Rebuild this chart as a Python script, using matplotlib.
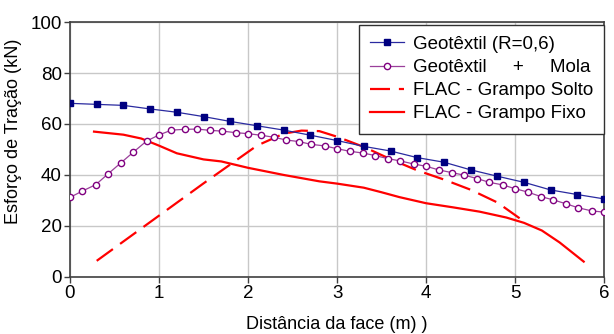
import numpy as np
import matplotlib.pyplot as plt

plt.rc('font', family=['Liberation Sans', 'DejaVu Sans'], size=13.5)

# Geotextil (R=0,6)
x_geo = [0.0, 0.3, 0.6, 0.9, 1.2, 1.5, 1.8, 2.1, 2.4, 2.7, 3.0,
         3.3, 3.6, 3.9, 4.2, 4.5, 4.8, 5.1, 5.4, 5.7, 6.0]
t_geo = [68.1, 67.7, 67.3, 65.9, 64.6, 62.9, 61.0, 59.3, 57.6, 55.6, 53.5,
         51.2, 49.4, 46.8, 45.0, 42.0, 39.5, 37.1, 34.1, 32.3, 30.6]

# Geotextil + Mola
x_mola = [0.00, 0.14, 0.29, 0.43, 0.57, 0.71, 0.86, 1.00, 1.14, 1.29, 1.43,
          1.57, 1.71, 1.86, 2.00, 2.14, 2.29, 2.43, 2.57, 2.71, 2.86, 3.00,
          3.14, 3.29, 3.43, 3.57, 3.71, 3.86, 4.00, 4.14, 4.29, 4.43, 4.57,
          4.71, 4.86, 5.00, 5.14, 5.29, 5.43, 5.57, 5.71, 5.86, 6.00]
t_mola = [31.2, 33.7, 36.2, 40.5, 44.7, 48.9, 53.3, 55.7, 57.6, 57.9, 58.0,
          57.5, 57.2, 56.6, 56.2, 55.6, 54.8, 53.7, 53.1, 52.0, 51.4, 50.3,
          49.3, 48.6, 47.6, 46.4, 45.5, 44.3, 43.4, 42.0, 40.9, 39.9, 38.6,
          37.1, 36.1, 34.6, 33.3, 31.5, 30.2, 28.7, 27.1, 25.9, 25.4]

# FLAC - grampo solto
x_solto = [0.3, 0.9, 1.5, 2.1, 2.4, 2.6, 2.8, 3.0, 3.3, 3.6, 3.9, 4.2, 4.5, 4.8, 5.05]
t_solto = [6.3, 21.5, 36.7, 51.5, 56.2, 57.4, 57.2, 55.0, 51.0, 46.2, 41.8, 38.2, 34.2, 29.2, 23.0]

# FLAC - grampo fixo
x_fixo = [0.27, 0.6, 0.8, 1.0, 1.2, 1.5, 1.7, 2.0, 2.4, 2.8, 3.0, 3.3, 3.5,
          3.7, 4.0, 4.3, 4.6, 4.9, 5.1, 5.3, 5.5, 5.77]
t_fixo = [57.0, 55.8, 54.3, 51.5, 48.5, 46.1, 45.3, 42.8, 40.0, 37.5, 36.6, 35.0, 33.2,
          31.3, 28.9, 27.3, 25.6, 23.3, 21.2, 18.2, 13.5, 6.0]

fig = plt.figure(figsize=(6.14, 3.34), dpi=100)
ax = fig.add_axes([0.114, 0.171, 0.870, 0.763])

ax.plot(x_geo, t_geo, '-s', color='#2a2aa0', lw=0.9, ms=5,
        mfc='#000080', mec='#000080', label='Geotêxtil (R=0,6)', zorder=4)
ax.plot(x_mola, t_mola, '-o', color='#9a3f9a', lw=0.9, ms=4.5,
        mfc='white', mec='#800080', mew=1.0, label='Geotêxtil     +     Mola', zorder=4)
ax.plot(x_solto, t_solto, '--', color='red', lw=1.6, dashes=(9, 4),
        label='FLAC - Grampo Solto', zorder=3)
ax.plot(x_fixo, t_fixo, '-', color='red', lw=1.6, label='FLAC - Grampo Fixo', zorder=3)

ax.set_xlim(0, 6)
ax.set_ylim(0, 100)
ax.set_xticks(range(0, 7))
ax.set_yticks(range(0, 101, 20))
ax.grid(color='#c8c8c8', lw=1.0)
ax.set_axisbelow(True)
for s in ax.spines.values():
    s.set_color('#404040')
    s.set_linewidth(1.2)
ax.tick_params(length=4, width=1, color='#404040', pad=2)

ax.set_ylabel('Esforço de Tração (kN)', fontsize=13)
ax.yaxis.set_label_coords(-0.09, 0.57)
ax.set_xlabel('Distância da face (m) )', fontsize=13)
ax.xaxis.set_label_coords(0.5, -0.155)

leg = ax.legend(loc='upper right', bbox_to_anchor=(1.0, 0.99), fontsize=13.5,
                frameon=True, fancybox=False, framealpha=1, edgecolor='#303030',
                handlelength=1.8, handletextpad=0.45, labelspacing=0.32,
                borderpad=0.6, borderaxespad=0)
leg.get_frame().set_linewidth(1.0)

plt.savefig('out.png', dpi=100)
